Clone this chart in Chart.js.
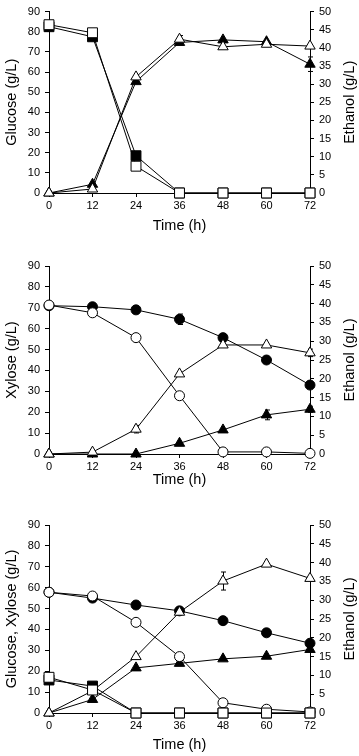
<!DOCTYPE html>
<html>
<head>
<meta charset="utf-8">
<script src="https://cdn.jsdelivr.net/npm/chart.js@4.4.1/dist/chart.umd.min.js"></script>
<style>
  html, body { margin: 0; padding: 0; background: #fff; }
  body { width: 359px; height: 756px; position: relative; overflow: hidden; }
  canvas { position: absolute; left: 0; }
</style>
</head>
<body>
<canvas id="c1" width="359" height="250" style="top:0px"></canvas>
<canvas id="c2" width="359" height="250" style="top:250px"></canvas>
<canvas id="c3" width="359" height="256" style="top:500px"></canvas>
<script>
// ---------- DATA ----------
const timeH = [0, 12, 24, 36, 48, 60, 72];
const xTicks = [0, 12, 24, 36, 48, 60, 72];
const leftTicks = [0, 10, 20, 30, 40, 50, 60, 70, 80, 90];
const rightTicks = [0, 5, 10, 15, 20, 25, 30, 35, 40, 45, 50];

// Panel 1 (glucose)
const p1GlucoseFilled = [82.5, 77.5, 18.5, 0, 0, 0, 0];
const p1GlucoseOpen   = [83.5, 79.5, 13.3, 0, 0, 0, 0];
const p1EthanolFilled = [0, 2.4, 30.7, 41.5, 42.2, 41.7, 35.5];
const p1EthanolOpen   = [0, 1.1, 32.0, 42.4, 40.3, 41.0, 40.5];
const p1EthanolFilledErr = [0, 0, 0, 0, 0, 0, 2.0];
const p1EthanolOpenErr   = [0, 0, 0, 1.0, 0, 0, 0];

// Panel 2 (xylose)
const p2XyloseFilled  = [71.0, 70.5, 69.0, 64.5, 55.7, 45.0, 33.0];
const p2XyloseOpen    = [71.3, 67.6, 55.7, 27.9, 1.0, 1.0, 0.3];
const p2EthanolFilled = [0, 0, 0, 2.85, 6.4, 10.4, 11.9];
const p2EthanolOpen   = [0, 0.5, 6.6, 21.3, 29.0, 29.0, 26.9];
const p2XyloseFilledErr  = [0, 1.0, 0, 2.5, 0, 0, 0];
const p2EthanolFilledErr = [0, 0, 0, 0, 0, 1.3, 0.8];
const p2EthanolOpenErr   = [0, 0, 1.0, 0, 0, 0, 1.0];

// Panel 3 (glucose + xylose)
const p3GlucoseFilled = [15.8, 12.9, 0, 0, 0, 0, 0];
const p3GlucoseOpen   = [17.1, 11.0, 0, 0, 0, 0, 0];
const p3XyloseFilled  = [57.8, 55.0, 51.7, 48.9, 44.2, 38.4, 33.4];
const p3XyloseOpen    = [57.8, 56.0, 43.4, 27.0, 4.9, 1.8, 0.5];
const p3EthanolFilled = [0, 3.6, 12.0, 13.2, 14.4, 15.1, 16.9];
const p3EthanolOpen   = [0, 5.9, 15.0, 26.8, 35.1, 39.6, 35.8];
const p3XyloseFilledErr = [0, 0, 1.5, 0, 0, 0, 0];
const p3XyloseOpenErr   = [0, 0, 1.5, 0, 0, 0, 0];
const p3EthanolOpenErr  = [0, 0, 0, 0, 2.4, 0, 0];

// ---------- STYLE ----------
const FONT = '"Liberation Sans", Arial, Helvetica, sans-serif';
const W = 359;

function ds(values, axis, shape, filled, errs) {
  const r = shape === 'rect' ? 7 : (shape === 'triangle' ? 6 : 5);
  return {
    data: timeH.map((t, i) => ({ x: t, y: values[i] })),
    yAxisID: axis,
    borderColor: '#000',
    borderWidth: 1,
    pointStyle: shape,
    pointRadius: r,
    pointHoverRadius: r,
    pointBackgroundColor: filled ? '#000' : '#fff',
    pointBorderColor: '#000',
    pointBorderWidth: 1,
    backgroundColor: filled ? '#000' : '#fff',
    fill: false,
    tension: 0,
    clip: false,
    order: filled ? 1 : 0,
    errs: errs || null
  };
}

const errorBars = {
  id: 'errorBars',
  beforeDatasetsDraw(chart) {
    const ctx = chart.ctx;
    ctx.save();
    ctx.strokeStyle = '#000';
    ctx.lineWidth = 1;
    chart.data.datasets.forEach((d, di) => {
      if (!d.errs) return;
      const ys = chart.scales[d.yAxisID];
      const xs = chart.scales.x;
      d.data.forEach((p, i) => {
        const e = d.errs[i];
        if (!e) return;
        const px = Math.round(xs.getPixelForValue(p.x)) + 0.5;
        const y1 = ys.getPixelForValue(p.y + e);
        const y2 = ys.getPixelForValue(p.y - e);
        ctx.beginPath();
        ctx.moveTo(px, y1); ctx.lineTo(px, y2);
        ctx.moveTo(px - 2.5, y1); ctx.lineTo(px + 2.5, y1);
        ctx.moveTo(px - 2.5, y2); ctx.lineTo(px + 2.5, y2);
        ctx.stroke();
      });
    });
    ctx.restore();
  }
};

const rightTitle = {
  id: 'rightTitle',
  afterDraw(chart, args, opts) {
    const ctx = chart.ctx;
    const yR = chart.scales.yR;
    ctx.save();
    ctx.fillStyle = '#000';
    ctx.font = '14.5px ' + FONT;
    ctx.textAlign = 'center';
    ctx.textBaseline = 'middle';
    ctx.translate(opts.x, (yR.top + yR.bottom) / 2);
    ctx.rotate(-Math.PI / 2);
    ctx.fillText(opts.text, 0, 0);
    ctx.restore();
  }
};

function makeChart(id, datasets, leftTitle, top, plotBottom, height, xTitlePad) {
  const tickFont = { family: FONT, size: 11 };
  const grid = { display: true, drawOnChartArea: false, drawTicks: true, tickLength: 4, tickColor: '#000', color: '#000', lineWidth: 1 };
  const border = { display: true, color: '#000', width: 1 };
  return new Chart(document.getElementById(id), {
    type: 'line',
    data: { datasets },
    plugins: [errorBars, rightTitle],
    options: {
      responsive: false,
      animation: false,
      events: [],
      layout: { padding: { top: top, left: 0, right: 0, bottom: 0 }, autoPadding: false },
      plugins: {
        legend: { display: false },
        tooltip: { enabled: false },
        rightTitle: { text: 'Ethanol (g/L)', x: 350 }
      },
      scales: {
        x: {
          type: 'linear', position: 'bottom', min: 0, max: 72,
          afterBuildTicks: s => { s.ticks = xTicks.map(v => ({ value: v })); },
          afterFit: s => { s.height = height - plotBottom; },
          ticks: { color: '#000', font: tickFont, padding: 2, maxRotation: 0, autoSkip: false },
          grid, border,
          title: { display: true, text: 'Time (h)', color: '#000', font: { family: FONT, size: 14.5 }, padding: { top: 0, bottom: xTitlePad } }
        },
        yL: {
          type: 'linear', position: 'left', min: 0, max: 90,
          afterBuildTicks: s => { s.ticks = leftTicks.map(v => ({ value: v })); },
          afterFit: s => { s.width = 49; },
          ticks: { color: '#000', font: tickFont, padding: 5 },
          grid, border,
          title: { display: true, text: leftTitle, color: '#000', font: { family: FONT, size: 14.5 }, padding: { top: 3, bottom: 0 } }
        },
        yR: {
          type: 'linear', position: 'right', min: 0, max: 50,
          afterBuildTicks: s => { s.ticks = rightTicks.map(v => ({ value: v })); },
          afterFit: s => { s.width = W - 310; },
          ticks: { color: '#000', font: tickFont, padding: 5 },
          grid, border,
          title: { display: false }
        }
      }
    }
  });
}

makeChart('c1', [
  ds(p1GlucoseOpen, 'yL', 'rect', false),
  ds(p1EthanolOpen, 'yR', 'triangle', false, p1EthanolOpenErr),
  ds(p1GlucoseFilled, 'yL', 'rect', true),
  ds(p1EthanolFilled, 'yR', 'triangle', true, p1EthanolFilledErr)
], 'Glucose (g/L)', 8, 193, 250, 15);

makeChart('c2', [
  ds(p2XyloseOpen, 'yL', 'circle', false),
  ds(p2EthanolOpen, 'yR', 'triangle', false, p2EthanolOpenErr),
  ds(p2XyloseFilled, 'yL', 'circle', true, p2XyloseFilledErr),
  ds(p2EthanolFilled, 'yR', 'triangle', true, p2EthanolFilledErr)
], 'Xylose (g/L)', 16, 204, 250, 11);

makeChart('c3', [
  ds(p3GlucoseOpen, 'yL', 'rect', false),
  ds(p3XyloseOpen, 'yL', 'circle', false, p3XyloseOpenErr),
  ds(p3EthanolOpen, 'yR', 'triangle', false, p3EthanolOpenErr),
  ds(p3GlucoseFilled, 'yL', 'rect', true),
  ds(p3XyloseFilled, 'yL', 'circle', true, p3XyloseFilledErr),
  ds(p3EthanolFilled, 'yR', 'triangle', true)
], 'Glucose, Xylose (g/L)', 25, 213, 256, 2);
</script>
</body>
</html>
